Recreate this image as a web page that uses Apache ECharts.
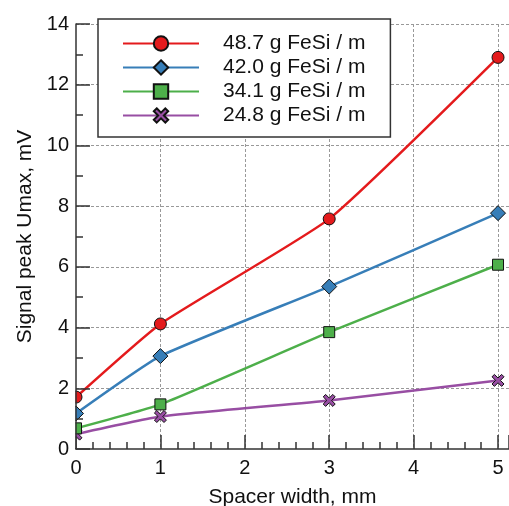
<!DOCTYPE html>
<html>
<head>
<meta charset="utf-8">
<script src="https://cdn.jsdelivr.net/npm/echarts@6/dist/echarts.min.js"></script>
<style>html,body{margin:0;padding:0;background:#fff;}#c{width:509px;height:506px;}</style>
</head>
<body>
<div id="c"></div>
<script>
const spacerWidth = [0, 1, 3, 5];
const s487 = [1.71, 4.12, 7.58, 12.9];
const s420 = [1.17, 3.06, 5.35, 7.77];
const s341 = [0.68, 1.47, 3.85, 6.07];
const s248 = [0.49, 1.07, 1.6, 2.26];
const seriesNames = ['48.7 g FeSi / m', '42.0 g FeSi / m', '34.1 g FeSi / m', '24.8 g FeSi / m'];
const colors = ['#e41a1c', '#377eb8', '#4daf4a', '#984ea3'];
const xTitle = 'Spacer width, mm';
const yTitle = 'Signal peak Umax, mV';

const FONT = '"Liberation Sans", Arial, sans-serif';
const crossPath = 'path://M2,0 L5,3 L8,0 L10,2 L7,5 L10,8 L8,10 L5,7 L2,10 L0,8 L3,5 L0,2 Z';
const symbols = ['circle', 'diamond', 'rect', crossPath];
const sizes = [12, [15, 15], 11, 12];
const allData = [s487, s420, s341, s248];

const chart = echarts.init(document.getElementById('c'), null, {renderer: 'canvas'});
const axisColor = '#333';
const yBase = {type: 'value', min: 0, max: 14, interval: 2, position: 'left'};
chart.setOption({
  animation: false,
  backgroundColor: '#fff',
  grid: {left: 76, top: 24, right: 0, bottom: 57, containLabel: false, outerBoundsMode: 'none'},
  graphic: [{
    type: 'rect', z: 50, silent: true,
    shape: {x: 0, y: 0, width: 75.4, height: 448},
    style: {fill: '#fff'}
  }],
  legend: {
    orient: 'vertical', left: 98, top: 19,
    padding: [14, 25, 11, 24],
    backgroundColor: '#fff', borderColor: '#333', borderWidth: 1.5,
    itemWidth: 76, itemHeight: 18, itemGap: 3,
    textStyle: {fontFamily: FONT, fontSize: 21, lineHeight: 21, color: '#111', padding: [0, 0, 0, 19]},
    data: seriesNames
  },
  xAxis: {
    type: 'value', min: 0, max: 5.13, interval: 1,
    name: xTitle, nameLocation: 'middle', nameGap: 38,
    nameTextStyle: {fontFamily: FONT, fontSize: 21, color: '#111'},
    axisLine: {show: true, onZero: false, lineStyle: {color: axisColor, width: 1.5}},
    axisTick: {show: true, inside: true, length: 14, lineStyle: {color: axisColor, width: 1.5}},
    minorTick: {show: true, splitNumber: 5, length: 7, lineStyle: {color: axisColor, width: 1.5}},
    axisLabel: {fontFamily: FONT, fontSize: 20, color: '#111', margin: 9, showMaxLabel: false},
    splitLine: {show: true, showMinLine: false, showMaxLine: false, lineStyle: {color: '#999', width: 1, type: [3, 2]}}
  },
  yAxis: [
    Object.assign({}, yBase, {
      axisLine: {show: false}, axisTick: {show: false}, axisLabel: {show: false},
      splitLine: {show: true, showMinLine: false, lineStyle: {color: '#999', width: 1, type: [3, 2]}}
    }),
    Object.assign({}, yBase, {
      z: 60,
      name: yTitle, nameLocation: 'middle', nameGap: 38,
      nameTextStyle: {fontFamily: FONT, fontSize: 21, color: '#111'},
      axisLine: {show: true, onZero: false, lineStyle: {color: axisColor, width: 1.5}},
      axisTick: {show: true, inside: true, length: 14, lineStyle: {color: axisColor, width: 1.5}},
      minorTick: {show: true, splitNumber: 2, length: 7, lineStyle: {color: axisColor, width: 1.5}},
      axisLabel: {fontFamily: FONT, fontSize: 20, color: '#111', margin: 7},
      splitLine: {show: false}
    })
  ],
  series: seriesNames.map((n, i) => ({
    name: n, type: 'line', smooth: 0.15, yAxisIndex: 0,
    data: spacerWidth.map((x, j) => [x, allData[i][j]]),
    symbol: symbols[i], symbolSize: sizes[i],
    showAllSymbol: true,
    lineStyle: {color: colors[i], width: 2.5},
    itemStyle: {color: colors[i], borderColor: '#111', borderWidth: 1},
    clip: false,
    z: 10 - i
  }))
});
</script>
</body>
</html>
